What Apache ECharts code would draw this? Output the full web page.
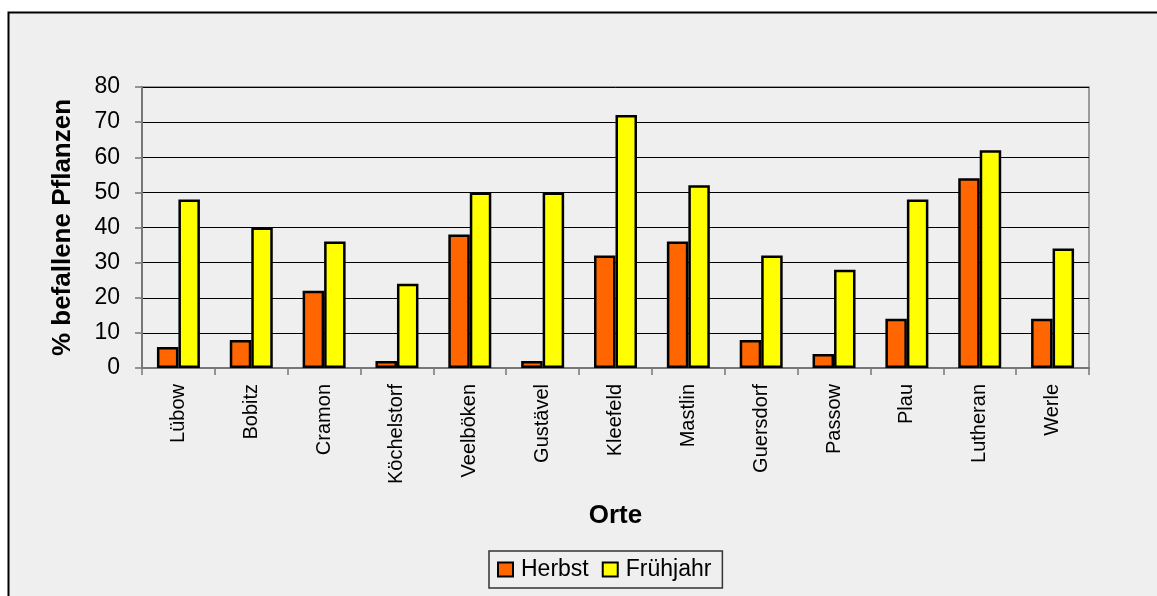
<!DOCTYPE html>
<html>
<head>
<meta charset="utf-8">
<title>Befallene Pflanzen nach Orten</title>
<script src="https://cdn.jsdelivr.net/npm/echarts@6/dist/echarts.min.js"></script>
<style>
  html, body { margin: 0; padding: 0; background: #ffffff; }
  #chart { width: 1157px; height: 596px; }
</style>
</head>
<body>
<div id="chart"></div>
<script>
// Orte (x-axis categories)
const orte = ['Lübow', 'Bobitz', 'Cramon', 'Köchelstorf', 'Veelböken', 'Gustävel',
  'Kleefeld', 'Mastlin', 'Guersdorf', 'Passow', 'Plau', 'Lutheran', 'Werle'];

// % befallene Pflanzen per season
const herbst   = [6, 8, 22, 2, 38, 2, 32, 36, 8, 4, 14, 54, 14];
const fruehjahr = [48, 40, 36, 24, 50, 50, 72, 52, 32, 28, 48, 62, 34];

// y-axis scale
const yMin = 0, yMax = 80, yStep = 10;

const FONT = 'Arial, "Liberation Sans", sans-serif';

const chart = echarts.init(document.getElementById('chart'), null, { renderer: 'canvas' });

chart.setOption({
  backgroundColor: 'transparent',
  animation: false,
  textStyle: { fontFamily: FONT, color: '#000' },
  graphic: [{
    type: 'rect',
    z: -10,
    shape: { x: 8.5, y: 12.5, width: 1200, height: 700 },
    style: { fill: '#efefef', stroke: '#000', lineWidth: 2 }
  }],
  grid: {
    left: 142, right: 68, top: 87, bottom: 228,
    show: true,
    backgroundColor: 'transparent',
    borderColor: '#808080',
    borderWidth: 1.5
  },
  legend: {
    left: 489, top: 551,
    orient: 'horizontal',
    padding: [7, 11, 7, 8],
    borderColor: '#333',
    borderWidth: 1.5,
    backgroundColor: '#efefef',
    icon: 'rect',
    itemWidth: 15, itemHeight: 14,
    itemGap: 13,
    itemStyle: { borderColor: '#000', borderWidth: 2 },
    textStyle: { fontSize: 23, fontFamily: FONT, color: '#000', padding: [0, 0, 0, 3] },
    data: ['Herbst', 'Frühjahr']
  },
  xAxis: {
    type: 'category',
    data: orte,
    name: 'Orte',
    nameLocation: 'middle',
    nameGap: 135,
    nameTextStyle: { fontSize: 26, fontWeight: 'bold', fontFamily: FONT, color: '#000' },
    axisLine: { show: true, lineStyle: { color: '#777', width: 2 } },
    axisTick: { show: true, inside: false, length: 7, alignWithLabel: false, lineStyle: { color: '#777', width: 1.5 } },
    axisLabel: { rotate: 90, margin: 16, fontSize: 20, fontFamily: FONT, color: '#000', interval: 0 },
    splitLine: { show: false }
  },
  yAxis: {
    type: 'value',
    min: yMin, max: yMax, interval: yStep,
    name: '% befallene Pflanzen',
    nameLocation: 'middle',
    nameRotate: 90,
    nameGap: 66,
    nameTextStyle: { fontSize: 26, fontWeight: 'bold', fontFamily: FONT, color: '#000' },
    axisLine: { show: true, lineStyle: { color: '#777', width: 2 } },
    axisTick: { show: true, inside: false, length: 7, lineStyle: { color: '#777', width: 1.5 } },
    axisLabel: { margin: 22, fontSize: 23, fontFamily: FONT, color: '#000' },
    splitLine: { show: true, lineStyle: { color: '#000', width: 1 } }
  },
  series: [
    {
      name: 'Herbst',
      type: 'bar',
      data: herbst,
      barGap: '0%',
      barCategoryGap: '41%',
      itemStyle: { color: '#ff6600', borderColor: '#000', borderWidth: 2.5 }
    },
    {
      name: 'Frühjahr',
      type: 'bar',
      data: fruehjahr,
      barGap: '0%',
      barCategoryGap: '41%',
      itemStyle: { color: '#ffff00', borderColor: '#000', borderWidth: 2.5 }
    }
  ]
});
</script>
</body>
</html>
